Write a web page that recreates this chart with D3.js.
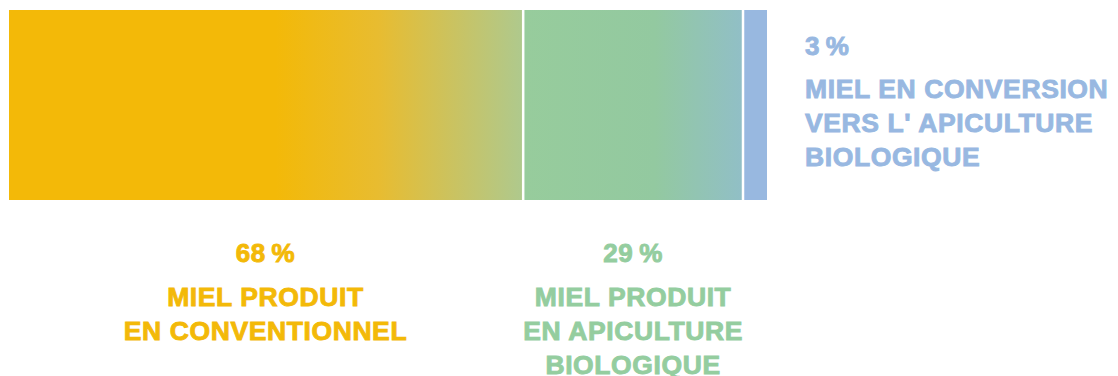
<!DOCTYPE html>
<html>
<head>
<meta charset="utf-8">
<script src="https://cdn.jsdelivr.net/npm/d3@7"></script>
<style>
  html, body { margin: 0; padding: 0; background: #fff; }
  svg { display: block; }
</style>
</head>
<body>
<div id="chart"></div>
<script>
// parts of honey production (%)
const categories = ["conventionnel", "bio", "conversion"];
const values = [68, 29, 3];
const pctLabels = ["68\u2009%", "29\u2009%", "3\u2009%"];
const labelLines = [
  ["MIEL PRODUIT", "EN CONVENTIONNEL"],
  ["MIEL PRODUIT", "EN APICULTURE", "BIOLOGIQUE"],
  ["MIEL EN CONVERSION", "VERS L' APICULTURE", "BIOLOGIQUE"]
];
const textColors = ["#f3b908", "#94cd9f", "#98b8e1"];
// gradient stops per segment [offset, colour]
const gradStops = [
  [[0, "#f3b908"], [0.52, "#f3b908"], [0.72, "#e8bc30"], [1, "#afc98d"]],
  [[0, "#97cc9c"], [0.6, "#93c9a0"], [1, "#91bfc6"]],
  [[0, "#98b8e0"], [1, "#98b8e0"]]
];

const width = 1118, height = 376;
const barTop = 10, barBottom = 200, gap = 2.5;
const fontFamily = "'Liberation Sans', Arial, sans-serif";

const x = d3.scaleLinear().domain([0, 100]).range([9, 767]);

const svg = d3.select("#chart").append("svg")
  .attr("width", width)
  .attr("height", height)
  .attr("viewBox", [0, 0, width, height])
  .attr("font-family", fontFamily)
  .attr("font-weight", "bold")
  .attr("letter-spacing", 0.6);

const cum = d3.cumsum(values);
const segs = values.map((v, i) => {
  const start = i === 0 ? 0 : cum[i - 1];
  const last = i === values.length - 1;
  return {
    i: i,
    x0: x(start),
    x1: x(start + v) - (last ? 0 : gap)
  };
});

const defs = svg.append("defs");
defs.selectAll("linearGradient")
  .data(segs)
  .join("linearGradient")
  .attr("id", d => `grad-${d.i}`)
  .attr("x1", "0%").attr("x2", "100%")
  .attr("y1", "0%").attr("y2", "0%")
  .selectAll("stop")
  .data(d => gradStops[d.i])
  .join("stop")
  .attr("offset", d => d[0])
  .attr("stop-color", d => d[1]);

svg.append("g")
  .selectAll("rect")
  .data(segs)
  .join("rect")
  .attr("x", d => d.x0)
  .attr("y", barTop)
  .attr("width", d => d.x1 - d.x0)
  .attr("height", barBottom - barTop)
  .attr("fill", d => `url(#grad-${d.i})`);

// labels under the two big segments (centered)
const lineH = 34;
const under = svg.append("g")
  .selectAll("g")
  .data(segs.slice(0, 2))
  .join("g")
  .attr("text-anchor", "middle")
  .attr("fill", d => textColors[d.i])
  .attr("stroke", d => textColors[d.i])
  .attr("stroke-width", 0.9);

under.append("text")
  .attr("x", d => (d.x0 + d.x1) / 2)
  .attr("y", 262)
  .attr("font-size", 26)
  .text(d => pctLabels[d.i]);

under.each(function (d) {
  d3.select(this).selectAll("text.line")
    .data(labelLines[d.i])
    .join("text")
    .attr("class", "line")
    .attr("x", (d.x0 + d.x1) / 2)
    .attr("y", (t, k) => 306 + k * lineH)
    .attr("font-size", 26.5)
    .text(t => t);
});

// label for the thin last segment, on the right
const last = segs[2];
const side = svg.append("g")
  .attr("fill", textColors[last.i])
  .attr("stroke", textColors[last.i])
  .attr("stroke-width", 0.9);

side.append("text")
  .attr("x", 805)
  .attr("y", 55)
  .attr("font-size", 26)
  .text(pctLabels[last.i]);

side.selectAll("text.line")
  .data(labelLines[last.i])
  .join("text")
  .attr("class", "line")
  .attr("x", 805)
  .attr("y", (t, k) => 98 + k * lineH)
  .attr("font-size", 26.5)
  .text(t => t);
</script>
</body>
</html>
